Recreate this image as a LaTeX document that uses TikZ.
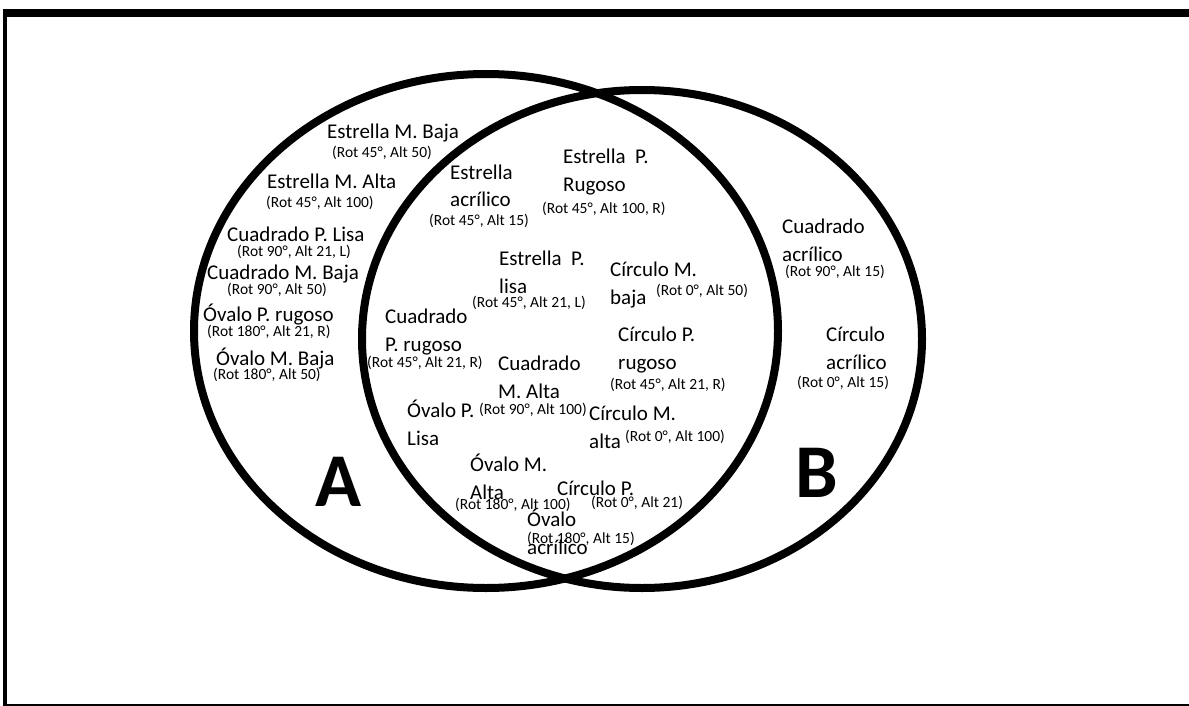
\documentclass[tikz,border=0pt]{standalone}
\usepackage{fontspec}
\setmainfont{Carlito}
\usetikzlibrary{positioning}

\begin{document}
\begin{tikzpicture}[x=1pt,y=-1pt]

    % Styles
    \tikzset{
        ring/.style={draw=black, line width=8pt},
        itemtxt/.style={anchor=base west, inner sep=0pt, align=left, font=\fontsize{21}{28}\selectfont},
        partxt/.style={anchor=base west, inner sep=0pt, font=\fontsize{15.5}{18}\selectfont},
        letter/.style={anchor=base west, inner sep=0pt, font=\fontsize{76}{84}\selectfont\bfseries}
    }

    \useasboundingbox (0,0) rectangle (1189,706);

    % Frame (thick top and left, thin bottom)
    \fill[black] (3,9) rectangle (1189,17);
    \fill[black] (3,9) rectangle (7,706);
    \draw[line width=1.5pt] (7,705) -- (1189,705);

    % Coordinates
    \coordinate (cA) at (486,331);   % centre of set A
    \coordinate (cB) at (642,339);   % centre of set B

    % Sets
    \draw[ring] (cA) ellipse [x radius=292, y radius=257];
    \draw[ring] (cB) ellipse [x radius=280, y radius=249];

    % Only in A
    \node[itemtxt] (estMBaja) at (327,139) {Estrella M. Baja};
    \node[partxt] (estMBajaP) at (332,157.5) {(Rot 45°, Alt 50)};
    \node[itemtxt] (estMAlta) at (267,188) {Estrella M. Alta};
    \node[partxt] (estMAltaP) at (266,207.5) {(Rot 45°, Alt 100)};
    \node[itemtxt] (cuaPLisa) at (227,241) {Cuadrado P. Lisa};
    \node[partxt] (cuaPLisaP) at (237,256.5) {(Rot 90°, Alt 21, L)};
    \node[itemtxt] (cuaMBaja) at (207,279) {Cuadrado M. Baja};
    \node[partxt] (cuaMBajaP) at (227,294.5) {(Rot 90°, Alt 50)};
    \node[itemtxt] (ovaPRug) at (203,321) {Óvalo P. rugoso};
    \node[partxt] (ovaPRugP) at (207,336.5) {(Rot 180°, Alt 21, R)};
    \node[itemtxt] (ovaMBaja) at (216,365) {Óvalo M. Baja};
    \node[partxt] (ovaMBajaP) at (213,379.5) {(Rot 180°, Alt 50)};

    % In A and B (two-line nodes: base = last line)
    \node[itemtxt] (estAcr) at (450,207) {Estrella\\acrílico};
    \node[partxt] (estAcrP) at (429,225.5) {(Rot 45°, Alt 15)};
    \node[itemtxt] (estPRug) at (563,191) {Estrella~ P.\\Rugoso};
    \node[partxt] (estPRugP) at (542,213.5) {(Rot 45°, Alt 100, R)};
    \node[itemtxt] (estPLisa) at (499,293) {Estrella~ P.\\lisa};
    \node[partxt] (estPLisaP) at (472,307.5) {(Rot 45°, Alt 21, L)};
    \node[itemtxt] (cirMBaja) at (610,304) {Círculo M.\\baja};
    \node[partxt] (cirMBajaP) at (656,295.5) {(Rot 0°, Alt 50)};
    \node[itemtxt] (cuaPRug) at (385,351) {Cuadrado\\P. rugoso};
    \node[partxt] (cuaPRugP) at (367,367.5) {(Rot 45°, Alt 21, R)};
    \node[itemtxt] (cuaMAlta) at (498,398) {Cuadrado\\M. Alta};
    \node[partxt] (cuaMAltaP) at (479,414.5) {(Rot 90°, Alt 100)};
    \node[itemtxt] (cirPRug) at (618,369) {Círculo P.\\rugoso};
    \node[partxt] (cirPRugP) at (610,389.5) {(Rot 45°, Alt 21, R)};
    \node[itemtxt] (ovaPLisa) at (407,445) {Óvalo P.\\Lisa};
    \node[itemtxt] (cirMAlta) at (589,448) {Círculo M.\\alta};
    \node[partxt] (cirMAltaP) at (625,441.5) {(Rot 0°, Alt 100)};
    \node[itemtxt] (ovaMAlta) at (470,499) {Óvalo M.\\Alta};
    \node[partxt] (ovaMAltaP) at (455,509.5) {(Rot 180°, Alt 100)};
    \node[itemtxt] (cirP) at (557,495) {Círculo P.};
    \node[partxt] (cirPP) at (591,507.5) {(Rot 0°, Alt 21)};
    \node[itemtxt] (ovaAcr) at (527,554) {Óvalo\\acrílico};
    \node[partxt] (ovaAcrP) at (527,543.5) {(Rot 180°, Alt 15)};

    % Only in B
    \node[itemtxt] (cuaAcr) at (782,261) {Cuadrado\\acrílico};
    \node[partxt] (cuaAcrP) at (785,276.5) {(Rot 90°, Alt 15)};
    \node[itemtxt] (cirAcr) at (826,369) {Círculo\\acrílico};
    \node[partxt] (cirAcrP) at (797,387.5) {(Rot 0°, Alt 15)};

    % Set labels
    \node[letter] (labA) at (315,506) {A};
    \node[letter] (labB) at (795,497) {B};

\end{tikzpicture}
\end{document}
